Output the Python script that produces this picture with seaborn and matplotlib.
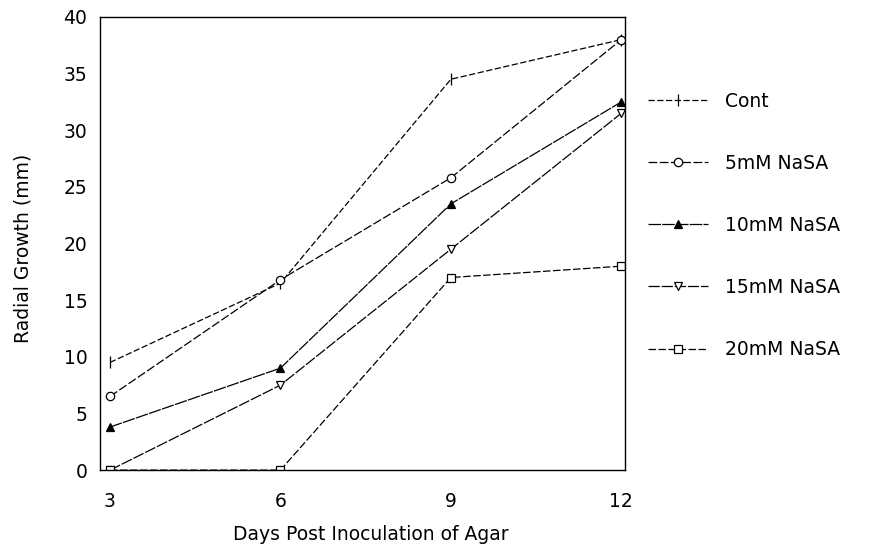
import matplotlib
matplotlib.use("Agg")
import matplotlib.pyplot as plt
import seaborn as sns
import pandas as pd

# Radial growth of the fungus on agar with increasing NaSA concentration
days = [3, 6, 9, 12]
treatments = ["Cont", "5mM NaSA", "10mM NaSA", "15mM NaSA", "20mM NaSA"]
cont = [9.5, 16.5, 34.5, 38.0]
nasa_5mm = [6.5, 16.8, 25.8, 38.0]
nasa_10mm = [3.8, 9.0, 23.5, 32.5]
nasa_15mm = [0.0, 7.5, 19.5, 31.5]
nasa_20mm = [0.0, 0.0, 17.0, 18.0]
y_ticks = [0, 5, 10, 15, 20, 25, 30, 35, 40]

series = [cont, nasa_5mm, nasa_10mm, nasa_15mm, nasa_20mm]

sns.set_theme(style="white")
plt.rcParams["font.family"] = ["DejaVu Sans"]
plt.rcParams["text.color"] = "black"
plt.rcParams["axes.labelcolor"] = "black"

FS = 13.5

fig = plt.figure(figsize=(8.75, 5.46), dpi=100)
ax = fig.add_axes([0.114, 0.139, 0.600, 0.830])

styles = {
    "Cont":      dict(marker="|", mfc="black", ms=9, dashes=(5, 2)),
    "5mM NaSA":  dict(marker="o", mfc="white", ms=6, dashes=(7, 2)),
    "10mM NaSA": dict(marker="^", mfc="black", ms=6, dashes=(10, 1)),
    "15mM NaSA": dict(marker="v", mfc="white", ms=6, dashes=(9, 1.5)),
    "20mM NaSA": dict(marker="s", mfc="white", ms=6, dashes=(6, 2)),
}

for name, vals in zip(treatments, series):
    st = styles[name]
    df = pd.DataFrame({"day": days, "growth": vals})
    sns.lineplot(data=df, x="day", y="growth", ax=ax, color="black",
                 linewidth=0.9, marker=st["marker"], markersize=st["ms"],
                 markerfacecolor=st["mfc"], markeredgecolor="black",
                 markeredgewidth=0.9, dashes=st["dashes"], label=name)

ax.set_xlim(2.82, 12.06)
ax.set_ylim(0, 40)
ax.set_xticks(days)
ax.set_yticks(y_ticks)
ax.tick_params(axis="both", direction="in", length=4, width=0.8,
               colors="black", labelsize=FS)
ax.tick_params(axis="y", pad=9)
ax.tick_params(axis="x", pad=16)
for sp in ax.spines.values():
    sp.set_color("black")
    sp.set_linewidth(1.0)

ax.set_xlabel("Days Post Inoculation of Agar", fontsize=FS)
ax.set_ylabel("Radial Growth (mm)", fontsize=FS)
ax.xaxis.set_label_coords(0.516, -0.121)
ax.yaxis.set_label_coords(-0.128, 0.49)

ax.get_legend().remove()
handles, labels = ax.get_legend_handles_labels()
fig.legend(handles, labels, loc="upper left", bbox_to_anchor=(0.732, 0.846),
           frameon=False, fontsize=FS, handlelength=3.2, handletextpad=0.9,
           labelspacing=2.3, borderaxespad=0)

fig.savefig("out.png", dpi=100, facecolor="white")
